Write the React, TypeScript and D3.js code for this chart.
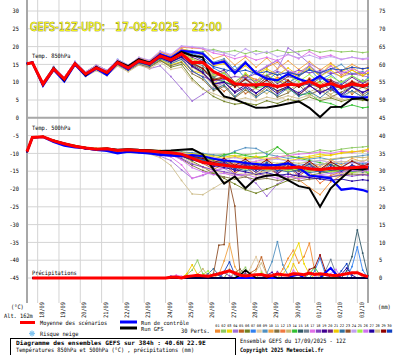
import React from 'react';
import * as d3 from 'd3';

// ---------- DATA ----------
const HOURS = [0, 6, 18, 30, 42, 54, 66, 78, 90, 102, 114, 126, 138, 150, 162, 174, 186, 198, 210, 222, 234, 246, 258, 270, 282, 294, 306, 318, 330, 342, 354, 366, 378, 384];

const DATE_LABELS = ['18/09', '19/09', '20/09', '21/09', '22/09', '23/09', '24/09', '25/09', '26/09', '27/09', '28/09', '29/09', '30/09', '01/10', '02/10', '03/10'];
const LEFT_TICKS = [30, 25, 20, 15, 10, 5, 0, -5, -10, -15, -20, -25, -30, -35, -40, -45];
const RIGHT_TICKS = [75, 70, 65, 60, 55, 50, 45, 40, 35, 30, 25, 20, 15, 10, 5, 0];
const TITLE_PARTS = ['GEFS-12Z-UPD:', '17-09-2025', '22:00'];

const MEMBER_COLORS = ['#f08a30', '#8cc860', '#f0d800', '#a070d8', '#c06020', '#708020', '#3080f0', '#e0c8a0', '#5090c0', '#f0a040',
  '#807040', '#f07840', '#c8b870', '#30c030', '#305868', '#708090', '#e070e8', '#8040c0', '#400090', '#702080',
  '#f0c800', '#3070a0', '#905028', '#c0a0f0', '#a0f040', '#d070f0', '#2000a0', '#d0c090', '#900000', '#1040c0'];

const T850_MEAN = [15.2, 15.5, 9.5, 13.7, 10.9, 15.2, 12.3, 14, 12.7, 15.5, 14, 16, 15.2, 17.4, 16.3, 18, 15.5, 15.6, 13, 11.5, 9.6, 9.2, 9.3, 9.4, 8.8, 9.4, 9.2, 10.2, 8.8, 9.6, 8.6, 9.5, 9, 9.3];
const T850_CTRL = [15.2, 15.6, 9.0, 13.5, 10.2, 15.0, 11.8, 13.8, 12.0, 15.4, 13.6, 16.2, 15.4, 17.8, 16.8, 18.8, 18.5, 18.0, 15.2, 15.8, 12.5, 15.5, 12.5, 11.0, 10.5, 12.3, 10.9, 10.0, 11.8, 9.5, 6.0, 5.8, 5.6, 5.8];
const T850_GFS = [15.2, 15.5, 9.3, 14.0, 10.5, 15.3, 12.0, 14.3, 12.5, 15.8, 14.5, 16.5, 15.5, 17.5, 16.5, 18.5, 17.5, 17.0, 9.5, 6.0, 5.2, 4.0, 2.8, 2.9, 3.4, 4.0, 4.6, 2.8, 0.2, 3.0, 3.1, 5.3, 5.5, 4.8];

const T850_MEMBERS = [
  [15.3, 15.6, 9.8, 14.1, 11.2, 15.6, 12.8, 14.5, 13.1, 16.0, 14.5, 16.7, 15.6, 18.0, 16.9, 19.3, 18.4, 17.6, 15.0, 16.4, 13.2, 15.8, 12.6, 14.2, 15.6, 12.8, 11.6, 13.8, 12.2, 14.6, 12.0, 13.4, 11.8, 12.6],
  [15.1, 15.4, 9.2, 13.5, 10.6, 15.0, 12.0, 13.8, 12.4, 15.2, 13.6, 15.8, 15.0, 17.2, 16.4, 18.6, 18.0, 18.6, 19.2, 18.4, 18.9, 18.0, 18.8, 18.2, 19.0, 18.3, 18.6, 19.1, 18.4, 18.9, 18.5, 18.7, 18.3, 18.5],
  [15.2, 15.5, 9.6, 13.9, 11.0, 15.4, 12.5, 14.2, 12.6, 15.4, 13.8, 15.6, 14.6, 16.3, 14.9, 15.8, 13.2, 12.4, 9.6, 11.8, 8.8, 12.6, 10.2, 13.4, 11.0, 9.4, 12.8, 14.6, 12.0, 15.2, 13.0, 14.2, 12.2, 13.6],
  [15.3, 15.6, 9.0, 13.6, 10.8, 15.2, 12.2, 14.0, 12.2, 15.0, 13.4, 15.2, 13.8, 14.6, 11.6, 8.2, 4.7, 6.6, 8.6, 9.8, 9.2, 11.0, 10.4, 12.0, 13.6, 19.6, 17.8, 15.2, 13.6, 12.8, 11.6, 12.4, 11.8, 11.5],
  [15.0, 15.3, 9.4, 13.4, 10.7, 14.9, 12.1, 13.7, 12.5, 15.1, 13.8, 15.7, 14.9, 17.0, 16.0, 17.6, 14.8, 12.6, 9.8, 7.4, 9.6, 6.8, 8.4, 10.6, 7.2, 9.0, 6.4, 8.8, 10.2, 7.6, 9.4, 6.6, 8.8, 8.0],
  [15.2, 15.4, 9.3, 13.6, 10.5, 15.0, 11.8, 13.6, 12.2, 15.0, 13.4, 15.4, 14.4, 16.2, 14.2, 15.0, 11.0, 8.2, 6.0, 4.6, 3.8, 4.2, 3.6, 4.8, 4.0, 5.2, 4.6, 5.8, 4.8, 5.6, 4.6, 5.4, 4.9, 5.0],
  [15.4, 15.7, 10.0, 14.4, 11.4, 15.8, 12.9, 14.8, 13.4, 16.4, 14.8, 16.8, 16.0, 18.4, 17.2, 19.0, 18.0, 17.2, 14.0, 12.4, 14.6, 11.0, 13.2, 10.4, 12.8, 9.8, 11.6, 13.8, 10.6, 12.2, 9.6, 11.8, 10.0, 11.2],
  [15.1, 15.3, 9.1, 13.2, 10.4, 14.8, 11.9, 13.6, 12.3, 14.9, 13.3, 15.3, 14.5, 16.8, 15.4, 16.6, 13.6, 10.6, 8.2, 9.4, 6.0, 7.8, 5.4, 8.6, 6.2, 4.8, 7.4, 5.8, 8.2, 6.4, 5.2, 7.6, 6.0, 6.6],
  [15.3, 15.6, 9.7, 14.0, 11.1, 15.5, 12.6, 14.4, 13.0, 15.8, 14.3, 16.4, 15.6, 18.2, 17.0, 19.2, 18.8, 18.4, 15.6, 16.6, 13.4, 15.8, 12.6, 14.4, 16.2, 13.0, 12.0, 14.6, 11.8, 13.6, 15.0, 12.4, 13.0, 12.2],
  [15.2, 15.6, 9.9, 14.3, 11.3, 15.7, 12.9, 14.8, 13.3, 16.2, 14.7, 16.9, 16.0, 18.5, 17.4, 19.8, 19.6, 19.4, 16.6, 17.6, 14.8, 17.0, 14.2, 16.8, 13.8, 16.0, 13.6, 15.8, 13.4, 15.4, 13.2, 15.0, 13.6, 14.2],
  [15.0, 15.3, 9.2, 13.3, 10.6, 14.8, 11.9, 13.5, 12.1, 14.8, 13.2, 15.0, 14.2, 16.0, 14.6, 15.6, 12.4, 10.8, 7.6, 8.8, 5.6, 7.8, 6.2, 8.6, 5.8, 7.0, 9.2, 6.6, 7.8, 5.8, 7.2, 8.8, 6.4, 7.4],
  [15.3, 15.5, 9.6, 13.8, 11.0, 15.3, 12.4, 14.1, 12.8, 15.6, 14.1, 16.1, 15.3, 17.6, 16.5, 18.2, 16.4, 15.2, 11.6, 12.8, 9.4, 11.8, 10.8, 9.0, 11.4, 10.6, 8.8, 11.2, 9.2, 10.8, 8.6, 10.4, 9.0, 9.8],
  [15.1, 15.4, 9.3, 13.5, 10.7, 15.0, 12.1, 13.8, 12.5, 15.3, 13.8, 15.8, 15.0, 17.1, 15.8, 17.2, 14.2, 12.4, 9.0, 10.2, 7.2, 9.4, 8.2, 6.8, 9.0, 7.4, 10.0, 7.2, 8.8, 6.6, 8.4, 7.0, 8.6, 7.6],
  [15.2, 15.5, 9.5, 13.7, 10.9, 15.2, 12.3, 14.0, 12.7, 15.5, 14.0, 16.0, 15.2, 17.4, 16.2, 17.8, 15.6, 13.6, 11.4, 10.2, 9.0, 9.6, 8.4, 9.0, 7.6, 8.2, 6.4, 6.8, 4.6, 4.0, 2.8, 3.6, 2.8, 3.0],
  [15.2, 15.5, 9.4, 13.6, 10.8, 15.1, 12.2, 13.9, 12.6, 15.4, 13.9, 15.9, 15.1, 17.3, 16.0, 17.6, 15.0, 13.2, 11.0, 10.0, 9.0, 9.6, 8.8, 9.4, 8.6, 9.4, 8.8, 9.6, 8.4, 9.2, 8.2, 9.0, 8.6, 8.8],
  [15.2, 15.5, 9.6, 13.8, 11.0, 15.3, 12.4, 14.1, 12.8, 15.6, 14.1, 16.1, 15.3, 17.5, 16.4, 18.0, 15.8, 14.6, 11.4, 12.6, 9.2, 11.2, 8.8, 11.6, 10.6, 8.6, 11.0, 9.4, 11.6, 9.0, 10.4, 8.8, 10.6, 9.4],
  [15.3, 15.6, 9.8, 14.2, 11.3, 15.7, 12.8, 14.6, 13.2, 16.2, 14.7, 16.8, 16.0, 18.6, 17.6, 20.0, 19.8, 19.4, 18.2, 17.6, 16.6, 17.4, 16.2, 17.0, 16.0, 17.8, 16.6, 18.6, 17.0, 17.6, 16.4, 17.0, 16.4, 16.6],
  [15.2, 15.5, 9.4, 13.6, 10.8, 15.1, 12.2, 13.9, 12.5, 15.3, 13.8, 15.7, 14.9, 17.0, 15.8, 17.0, 13.0, 11.6, 10.4, 10.8, 11.6, 11.2, 12.4, 11.8, 13.0, 12.2, 13.4, 12.6, 13.2, 12.4, 13.0, 12.2, 12.6, 12.4],
  [15.2, 15.4, 9.3, 13.5, 10.7, 15.0, 12.1, 13.8, 12.4, 15.2, 13.7, 15.6, 14.8, 16.8, 15.6, 17.0, 14.4, 12.6, 9.4, 10.0, 7.0, 8.6, 6.8, 9.2, 7.6, 8.8, 6.4, 9.0, 7.2, 8.2, 6.2, 8.6, 7.0, 7.8],
  [15.3, 15.6, 9.7, 14.0, 11.1, 15.5, 12.6, 14.4, 13.0, 15.8, 14.3, 16.4, 15.6, 17.9, 16.8, 18.6, 17.0, 15.8, 12.2, 13.4, 10.0, 12.2, 9.6, 12.0, 9.6, 11.6, 10.8, 9.0, 11.2, 10.6, 9.2, 11.4, 9.6, 10.6],
  [15.2, 15.6, 9.8, 14.1, 11.2, 15.6, 12.7, 14.5, 13.1, 16.0, 14.6, 16.7, 15.9, 18.4, 17.3, 19.4, 18.6, 17.8, 14.6, 15.2, 12.4, 14.6, 12.2, 13.8, 12.0, 14.0, 11.8, 14.2, 11.6, 13.4, 11.4, 13.4, 11.8, 12.6],
  [15.1, 15.3, 9.2, 13.4, 10.6, 14.9, 12.0, 13.7, 12.3, 15.1, 13.5, 15.4, 14.6, 16.6, 15.2, 16.4, 13.2, 11.4, 8.0, 9.2, 6.0, 8.4, 5.8, 7.8, 6.2, 8.4, 6.0, 7.4, 5.6, 8.0, 6.0, 7.6, 5.8, 6.8],
  [15.2, 15.5, 9.5, 13.7, 10.9, 15.2, 12.3, 14.0, 12.7, 15.5, 14.0, 16.0, 15.2, 17.4, 16.2, 17.8, 15.4, 14.0, 10.8, 11.6, 8.6, 10.8, 9.0, 11.2, 8.8, 10.6, 8.6, 10.8, 8.8, 10.2, 8.4, 10.0, 9.0, 9.6],
  [15.3, 15.6, 9.9, 14.3, 11.4, 15.8, 12.9, 14.8, 13.4, 16.3, 14.8, 17.0, 16.2, 18.8, 17.8, 20.2, 20.0, 19.6, 18.8, 18.2, 17.4, 19.4, 17.8, 18.6, 17.2, 17.8, 16.8, 17.6, 16.6, 17.2, 16.4, 17.0, 16.6, 16.8],
  [15.2, 15.5, 9.6, 13.9, 11.0, 15.4, 12.5, 14.2, 12.9, 15.7, 14.2, 16.2, 15.4, 17.7, 16.6, 18.4, 16.6, 15.4, 12.0, 12.6, 10.0, 12.4, 9.8, 12.2, 10.0, 12.0, 10.2, 12.2, 9.8, 11.6, 10.0, 11.8, 10.2, 10.8],
  [15.3, 15.6, 9.7, 14.1, 11.2, 15.6, 12.7, 14.5, 13.1, 16.0, 14.5, 16.6, 15.8, 18.2, 17.2, 19.2, 18.4, 18.0, 15.0, 16.0, 13.0, 15.4, 12.8, 14.6, 16.2, 13.2, 12.4, 14.8, 12.2, 14.6, 12.4, 13.8, 12.6, 13.2],
  [15.1, 15.4, 9.3, 13.5, 10.7, 15.0, 12.1, 13.8, 12.4, 15.2, 13.7, 15.6, 14.8, 16.9, 15.7, 17.2, 14.6, 12.8, 9.6, 10.0, 7.4, 9.2, 7.0, 9.0, 6.8, 8.6, 7.0, 9.2, 6.8, 8.6, 6.6, 8.8, 7.2, 7.8],
  [15.0, 15.2, 9.0, 13.1, 10.3, 14.6, 11.6, 13.2, 11.8, 14.5, 12.9, 14.8, 13.8, 15.6, 13.6, 14.2, 10.4, 8.0, 6.8, 5.6, 5.0, 5.6, 4.8, 5.8, 5.2, 6.2, 5.4, 6.4, 5.4, 6.0, 5.0, 5.8, 5.4, 5.6],
  [15.2, 15.5, 9.5, 13.7, 10.9, 15.2, 12.3, 14.0, 12.7, 15.5, 14.0, 16.0, 15.2, 17.3, 16.1, 17.6, 15.2, 13.8, 10.6, 11.2, 8.8, 10.8, 8.6, 10.6, 8.4, 10.4, 8.6, 10.8, 8.4, 10.4, 8.2, 10.2, 8.6, 9.4],
  [15.3, 15.6, 9.7, 14.0, 11.1, 15.5, 12.6, 14.4, 13.0, 15.8, 14.3, 16.4, 15.6, 18.0, 16.9, 18.8, 17.6, 16.2, 14.4, 13.6, 12.8, 13.4, 12.4, 13.0, 12.0, 12.8, 12.0, 13.4, 12.6, 13.8, 13.4, 14.2, 13.8, 14.0],
];

const T500_MEAN = [-9.5, -5.5, -5.3, -6.5, -7.3, -8.0, -8.5, -8.8, -8.7, -9.2, -9.0, -9.2, -9.3, -9.6, -9.8, -10.2, -11.3, -12.5, -13.0, -13.3, -13.7, -13.9, -14.1, -14.1, -14.1, -14.0, -13.8, -14.3, -14.6, -14.2, -14.2, -14.0, -13.8, -13.8];
const T500_CTRL = [-9.5, -5.6, -5.4, -6.8, -7.8, -8.3, -8.5, -9.0, -9.3, -10.0, -9.5, -9.8, -10.0, -10.4, -10.6, -10.8, -10.5, -10.8, -11.5, -12.0, -12.2, -12.7, -13.0, -13.3, -13.3, -12.8, -14.0, -16.2, -16.6, -17.0, -20.2, -19.8, -20.3, -20.8];
const T500_GFS = [-9.5, -5.5, -5.3, -6.4, -7.2, -7.9, -8.4, -8.8, -8.6, -9.0, -8.8, -9.0, -9.1, -9.3, -9.2, -9.0, -8.8, -10.3, -14.5, -18.5, -16.5, -19.8, -17.0, -16.3, -16.0, -17.5, -19.2, -19.8, -25.0, -19.8, -17.0, -14.3, -14.5, -14.2];

const T500_MEMBERS = [
  [-9.4, -5.6, -5.4, -6.6, -7.2, -7.9, -8.4, -8.6, -8.8, -9.0, -8.8, -9.0, -9.0, -9.2, -9.4, -9.8, -10.6, -11.4, -12.0, -12.6, -13.2, -12.8, -13.6, -14.2, -13.8, -15.2, -17.4, -19.6, -21.6, -18.0, -16.2, -15.4, -14.8, -14.6],
  [-9.6, -5.4, -5.2, -6.4, -7.4, -8.1, -8.6, -8.9, -8.6, -9.3, -9.1, -9.3, -9.4, -9.5, -9.6, -9.8, -10.2, -10.4, -10.6, -10.2, -10.8, -10.4, -10.0, -9.6, -8.2, -10.2, -9.4, -9.8, -9.0, -9.4, -8.8, -8.4, -8.2, -8.0],
  [-9.5, -5.5, -5.3, -6.4, -7.2, -7.8, -8.4, -8.6, -8.5, -9.0, -8.8, -9.0, -9.1, -9.2, -9.3, -9.6, -10.0, -10.2, -10.6, -11.0, -10.6, -11.2, -10.8, -11.4, -11.0, -10.6, -11.2, -10.8, -10.2, -10.6, -9.8, -9.4, -9.6, -9.2],
  [-9.6, -5.6, -5.4, -6.6, -7.4, -8.2, -8.7, -9.0, -9.0, -9.6, -9.4, -9.8, -10.0, -10.8, -12.0, -14.6, -17.0, -16.2, -15.0, -14.2, -15.8, -16.4, -18.4, -22.0, -18.6, -16.8, -15.6, -15.0, -14.4, -14.8, -14.2, -13.8, -13.4, -13.2],
  [-9.5, -5.6, -5.3, -6.5, -7.3, -8.1, -8.6, -8.9, -8.8, -9.3, -9.1, -9.4, -9.5, -9.9, -10.2, -10.8, -11.8, -12.8, -14.4, -13.2, -15.6, -13.8, -16.2, -14.0, -15.8, -13.6, -16.4, -14.2, -15.4, -13.8, -16.0, -14.6, -15.2, -15.0],
  [-9.4, -5.5, -5.2, -6.4, -7.2, -7.9, -8.4, -8.7, -8.6, -9.1, -8.9, -9.1, -9.2, -9.5, -9.8, -10.6, -12.2, -13.8, -15.6, -17.0, -18.6, -20.2, -21.2, -20.0, -18.8, -17.6, -16.8, -16.2, -15.6, -15.0, -14.6, -14.2, -14.0, -13.8],
  [-9.6, -5.4, -5.4, -6.6, -7.5, -8.2, -8.7, -9.1, -9.0, -9.5, -9.3, -9.5, -9.6, -9.9, -10.2, -10.6, -11.4, -12.0, -12.6, -13.0, -12.4, -13.2, -12.8, -13.6, -13.0, -12.6, -13.4, -12.8, -13.2, -12.6, -13.0, -12.4, -12.8, -12.6],
  [-9.5, -5.5, -5.3, -6.5, -7.3, -8.0, -8.5, -8.8, -8.7, -9.2, -9.0, -9.2, -9.3, -9.6, -10.0, -11.0, -12.6, -14.0, -14.8, -15.6, -16.0, -15.4, -16.2, -15.8, -16.4, -17.0, -16.6, -17.4, -16.8, -16.2, -15.8, -15.4, -15.6, -15.4],
  [-9.4, -5.4, -5.2, -6.3, -7.1, -7.8, -8.3, -8.6, -8.5, -9.0, -8.8, -9.0, -9.1, -9.3, -9.4, -9.6, -9.8, -10.0, -10.4, -10.8, -9.4, -8.4, -8.6, -10.2, -10.8, -11.4, -11.0, -11.6, -11.2, -11.8, -11.4, -11.0, -10.6, -10.4],
  [-9.5, -5.6, -5.4, -6.5, -7.3, -8.0, -8.5, -8.8, -8.8, -9.2, -9.0, -9.3, -9.4, -9.6, -9.9, -10.4, -11.2, -11.8, -12.8, -11.6, -14.2, -12.4, -14.8, -13.0, -15.0, -12.8, -14.6, -12.6, -13.8, -11.8, -13.2, -11.4, -12.4, -11.6],
  [-9.5, -5.5, -5.3, -6.6, -7.4, -8.1, -8.6, -8.9, -8.8, -9.3, -9.1, -9.3, -9.4, -9.8, -10.4, -11.6, -13.4, -14.8, -15.8, -16.6, -17.2, -16.6, -17.4, -17.0, -17.6, -17.2, -17.8, -17.2, -17.0, -16.6, -16.2, -15.8, -16.0, -15.8],
  [-9.5, -5.5, -5.3, -6.5, -7.3, -8.0, -8.5, -8.8, -8.7, -9.2, -9.0, -9.2, -9.3, -9.6, -9.8, -10.2, -11.0, -11.6, -12.2, -12.6, -13.0, -12.6, -13.4, -13.0, -13.8, -13.4, -14.0, -15.2, -18.4, -16.2, -15.2, -14.6, -14.2, -14.0],
  [-9.4, -5.5, -5.2, -6.4, -7.2, -7.9, -8.4, -8.7, -8.6, -9.1, -8.9, -9.1, -9.2, -9.4, -9.6, -10.0, -10.6, -11.2, -11.6, -12.0, -12.4, -12.0, -12.6, -12.2, -12.8, -12.4, -12.8, -12.4, -12.0, -11.6, -11.2, -11.0, -11.2, -11.0],
  [-9.6, -5.6, -5.4, -6.6, -7.4, -8.1, -8.6, -8.9, -8.8, -9.3, -9.1, -9.3, -9.4, -9.7, -9.9, -10.3, -10.8, -11.4, -11.8, -10.4, -9.8, -10.6, -11.2, -10.8, -8.2, -10.6, -11.4, -12.0, -12.6, -13.2, -13.8, -14.4, -15.0, -15.4],
  [-9.5, -5.5, -5.3, -6.5, -7.3, -8.0, -8.5, -8.8, -8.7, -9.2, -9.0, -9.2, -9.3, -9.6, -9.8, -10.2, -11.0, -11.8, -12.6, -13.2, -13.8, -14.2, -14.6, -14.2, -14.8, -14.4, -15.0, -14.6, -15.2, -14.8, -15.2, -14.8, -15.0, -14.8],
  [-9.5, -5.5, -5.3, -6.5, -7.3, -8.0, -8.5, -8.8, -8.7, -9.2, -9.0, -9.2, -9.3, -9.6, -9.8, -10.2, -10.8, -11.4, -12.6, -11.6, -13.8, -12.2, -14.0, -12.4, -14.2, -12.6, -14.4, -12.8, -14.6, -12.4, -13.8, -12.0, -13.2, -12.6],
  [-9.6, -5.6, -5.4, -6.6, -7.4, -8.2, -8.7, -9.0, -8.9, -9.4, -9.2, -9.5, -9.7, -10.2, -11.0, -13.2, -17.0, -16.0, -14.8, -14.0, -13.4, -12.8, -12.2, -11.6, -11.0, -10.6, -10.2, -10.0, -9.6, -10.0, -9.4, -9.8, -9.2, -9.4],
  [-9.5, -5.5, -5.3, -6.5, -7.3, -8.1, -8.6, -8.9, -8.8, -9.3, -9.1, -9.3, -9.5, -9.9, -10.4, -11.4, -13.0, -13.8, -14.6, -15.2, -15.8, -16.2, -15.6, -16.4, -15.8, -16.6, -16.0, -16.8, -16.2, -16.6, -16.0, -16.4, -16.0, -16.2],
  [-9.5, -5.5, -5.3, -6.5, -7.4, -8.1, -8.6, -8.9, -8.8, -9.3, -9.1, -9.4, -9.5, -9.8, -10.0, -10.6, -11.6, -12.4, -13.8, -12.6, -15.0, -13.2, -15.4, -13.4, -15.6, -13.6, -15.8, -13.4, -15.2, -13.8, -15.0, -13.2, -14.4, -13.8],
  [-9.5, -5.5, -5.3, -6.5, -7.3, -8.0, -8.5, -8.8, -8.7, -9.2, -9.0, -9.2, -9.3, -9.6, -9.8, -10.2, -11.2, -12.0, -12.6, -13.0, -13.6, -13.2, -14.0, -13.6, -14.2, -13.8, -14.4, -14.0, -14.6, -14.2, -14.8, -14.4, -14.6, -14.4],
  [-9.4, -5.4, -5.2, -6.3, -7.1, -7.8, -8.3, -8.6, -8.5, -9.0, -8.8, -9.0, -9.1, -9.3, -9.5, -9.8, -10.2, -10.6, -11.0, -11.4, -11.0, -11.6, -11.2, -11.8, -11.4, -12.0, -11.6, -11.2, -10.8, -10.4, -10.0, -9.6, -9.2, -8.8],
  [-9.5, -5.5, -5.3, -6.5, -7.3, -8.0, -8.5, -8.8, -8.7, -9.2, -9.0, -9.2, -9.3, -9.6, -9.9, -10.4, -11.4, -12.2, -13.0, -13.6, -14.2, -14.8, -14.4, -15.0, -14.6, -15.2, -14.8, -15.4, -15.0, -15.6, -15.2, -15.0, -15.2, -15.0],
  [-9.5, -5.5, -5.3, -6.5, -7.3, -8.0, -8.5, -8.8, -8.7, -9.2, -9.0, -9.2, -9.3, -9.6, -9.8, -10.2, -11.0, -11.6, -13.0, -12.0, -14.4, -12.6, -14.6, -12.8, -14.8, -12.6, -15.0, -13.0, -14.8, -12.8, -15.2, -13.4, -14.6, -13.8],
  [-9.4, -5.4, -5.2, -6.4, -7.2, -7.9, -8.4, -8.7, -8.6, -9.1, -8.9, -9.1, -9.2, -9.4, -9.6, -9.9, -10.4, -10.8, -11.2, -11.6, -11.2, -11.8, -11.4, -12.0, -11.6, -12.2, -11.8, -12.4, -12.0, -12.6, -12.2, -12.8, -12.4, -12.6],
  [-9.5, -5.5, -5.3, -6.5, -7.3, -8.0, -8.5, -8.8, -8.7, -9.2, -9.0, -9.2, -9.3, -9.6, -9.8, -10.3, -11.2, -12.0, -12.8, -13.4, -13.8, -14.4, -14.0, -14.6, -14.2, -14.8, -14.4, -15.0, -14.6, -15.2, -14.8, -15.4, -15.0, -15.2],
  [-9.6, -5.6, -5.4, -6.6, -7.4, -8.1, -8.6, -8.9, -8.8, -9.3, -9.1, -9.4, -9.5, -9.9, -10.4, -11.8, -14.0, -15.2, -16.0, -15.6, -16.4, -15.8, -16.8, -16.2, -17.0, -16.4, -17.2, -16.6, -16.0, -15.6, -15.2, -14.8, -15.0, -14.8],
  [-9.6, -5.6, -5.4, -6.7, -7.5, -8.2, -8.8, -9.1, -9.0, -9.6, -9.4, -9.6, -9.7, -10.0, -10.3, -10.8, -11.8, -12.6, -13.4, -14.0, -14.6, -15.2, -15.8, -15.4, -16.2, -15.8, -16.4, -16.8, -17.2, -17.6, -17.2, -17.8, -17.4, -17.6],
  [-9.4, -5.5, -5.3, -6.5, -7.3, -8.0, -8.5, -8.9, -8.9, -9.4, -9.4, -9.8, -10.2, -11.2, -13.4, -17.6, -21.4, -21.6, -19.8, -18.0, -17.0, -16.2, -15.6, -15.0, -14.6, -14.2, -13.8, -13.4, -13.0, -12.6, -12.4, -12.2, -12.0, -11.8],
  [-9.5, -5.5, -5.3, -6.5, -7.3, -8.0, -8.5, -8.8, -8.7, -9.2, -9.0, -9.2, -9.3, -9.6, -9.8, -10.2, -10.8, -11.4, -12.6, -11.4, -13.4, -11.6, -13.8, -11.8, -14.0, -12.0, -14.2, -12.2, -14.4, -12.4, -14.0, -12.2, -13.6, -13.0],
  [-9.5, -5.5, -5.3, -6.5, -7.3, -8.0, -8.5, -8.8, -8.7, -9.2, -9.0, -9.2, -9.3, -9.6, -9.8, -10.2, -11.0, -11.8, -13.2, -12.2, -14.4, -12.4, -14.8, -12.6, -15.0, -12.8, -14.6, -13.0, -15.2, -13.2, -15.0, -13.4, -14.6, -14.0],
];

// precipitation (mm / 6h), non-zero steps only: [hour, mm]
const PRECIP_MEMBERS: [number, number][][] = [
  [[288, 2.5], [294, 5.5], [300, 7.8], [306, 4.2], [312, 6.0], [318, 9.8], [324, 2.0]],
  [[180, 1.0], [186, 2.2], [192, 5.0], [198, 1.2], [240, 1.5], [246, 3.0]],
  [[288, 1.0], [294, 3.2], [300, 6.5], [306, 9.8], [312, 4.0], [318, 1.0]],
  [[162, 0.6], [168, 0.4], [210, 1.2], [216, 0.8]],
  [[252, 1.5], [258, 2.4], [264, 5.9], [270, 1.2]],
  [[228, 2.4], [234, 1.0], [348, 0.8]],
  [[324, 2.0], [330, 5.6], [336, 1.0], [366, 3.2], [372, 8.7], [378, 2.2]],
  [[252, 3.0], [258, 6.0], [264, 2.0], [372, 2.0]],
  [[270, 1.2], [276, 4.6], [282, 10.2], [288, 3.7], [294, 0.8]],
  [[216, 1.0], [222, 4.8], [228, 9.7], [234, 3.2], [240, 0.6]],
  [[234, 1.5], [240, 2.5], [246, 0.8]],
  [[300, 1.5], [306, 0.8]],
  [[192, 1.0], [198, 2.6], [204, 0.6]],
  [[318, 1.2], [324, 3.0], [330, 0.8]],
  [[360, 2.0], [366, 6.0], [372, 13.5], [378, 7.0], [384, 0.6]],
  [[336, 2.0], [342, 5.2], [348, 1.2]],
  [[168, 0.8], [174, 0.5], [300, 2.2], [306, 0.8]],
  [[222, 1.5], [228, 0.6], [282, 1.8]],
  [[270, 0.8], [276, 1.6]],
  [[186, 0.6], [246, 1.4]],
  [[180, 1.2], [186, 3.7], [192, 1.0], [300, 4.0], [306, 1.2]],
  [[204, 1.2], [210, 2.6], [216, 0.8]],
  [[210, 1.2], [216, 9.2], [222, 9.4], [228, 26.8], [234, 20.2], [240, 0.8]],
  [[318, 1.4], [324, 0.6]],
  [[198, 1.0], [204, 2.0], [264, 1.6]],
  [[342, 1.2], [348, 2.4]],
  [[354, 1.0], [360, 2.8], [366, 0.8]],
  [[258, 2.0], [264, 4.2], [270, 1.0]],
  [[318, 2.4], [324, 3.0], [330, 6.5], [336, 2.0]],
  [[222, 1.8], [228, 4.5], [234, 1.0], [354, 2.0], [360, 4.0]],
];
const PRECIP_MEAN: [number, number][] = [[162, 0.2], [168, 0.3], [180, 0.4], [186, 0.6], [192, 0.8], [198, 0.6], [204, 0.5], [210, 0.8], [216, 1.2], [222, 1.6], [228, 2.0], [234, 1.4], [240, 0.8], [246, 0.6], [252, 0.8], [258, 0.9], [264, 1.0], [270, 0.6], [276, 0.7], [282, 1.1], [288, 0.9], [294, 0.8], [300, 1.2], [306, 1.1], [312, 0.9], [318, 1.4], [324, 1.0], [330, 1.2], [336, 1.0], [342, 0.8], [348, 0.7], [354, 0.9], [360, 1.2], [366, 1.5], [372, 1.5], [378, 0.8], [384, 0.4]];
const PRECIP_CTRL: [number, number][] = [[300, 0.6], [306, 1.0], [336, 1.5], [342, 2.8], [348, 1.0]];
const PRECIP_GFS: [number, number][] = [[240, 0.8], [246, 2.2], [252, 1.0], [276, 0.6]];

// ---------- LAYOUT ----------
const W = 395, H = 355;
const X0 = 27, X1 = 368, YTOP = 0, YBOT = 303;
const x = d3.scaleLinear().domain([0, 384]).range([X0, X1]);
const yL = d3.scaleLinear().domain([30, -45]).range([11, 278]);
const yR = d3.scaleLinear().domain([75, 0]).range([11, 278]);
const PRECIP_HOURS = d3.range(6, 385, 6);
const GRID_HOURS = d3.range(12, 384, 24);
const MONO = "'DejaVu Sans Mono', monospace";
// title pieces: [left x, horizontal squeeze]
const TITLE_POS: [number, number][] = [[30, 0.78], [115, 0.89], [192, 0.83]];

function T({ x, y, s, size = 6, cw = 3.2, weight = 'normal', anchor = 'start', fill = '#000', transform }: any) {
  return (
    <text x={x} y={y} fontSize={size} fontFamily={MONO} fontWeight={weight} textAnchor={anchor}
      fill={fill} textLength={s.length * cw} lengthAdjust="spacingAndGlyphs" transform={transform}>{s}</text>
  );
}

const tempLine = d3.line<number>().x((_, i) => x(HOURS[i])).y((v) => yL(v));

const precipSeries = (sparse: [number, number][]) => {
  const m = new Map(sparse.map(([h, v]) => [h, v]));
  return PRECIP_HOURS.map((h) => [h, m.get(h) ?? 0] as [number, number]);
};
const precipLine = d3.line<[number, number]>().x((d) => x(d[0])).y((d) => yR(d[1]));

export default function App() {
  const memberPaths = (data: number[][]) =>
    data.map((vals, i) => (
      <g key={i}>
        <path d={tempLine(vals) || ''} fill="none" stroke={MEMBER_COLORS[i]} strokeWidth={0.9} />
        {vals.map((v, j) => (
          <rect key={j} x={x(HOURS[j]) - 0.8} y={yL(v) - 0.8} width={1.6} height={1.6} fill={MEMBER_COLORS[i]} />
        ))}
      </g>
    ));

  return (
    <svg width={W} height={H} style={{ position: 'fixed', left: 0, top: 0, background: '#fff' }}>
      <rect x={0} y={0} width={W} height={H} fill="#fff" />
      {/* grid */}
      {LEFT_TICKS.map((t) => (
        <line key={'h' + t} x1={X0} x2={X1} y1={yL(t)} y2={yL(t)} stroke="#d4d4d4" strokeWidth={1} />
      ))}
      {GRID_HOURS.map((h) => (
        <line key={'v' + h} x1={x(h)} x2={x(h)} y1={YTOP} y2={YBOT} stroke="#d4d4d4" strokeWidth={1} />
      ))}
      <line x1={X0} x2={X1} y1={yL(0)} y2={yL(0)} stroke="#a8a8a8" strokeWidth={2} />
      <line x1={X0} x2={X0} y1={YTOP} y2={YBOT} stroke="#a8a8a8" strokeWidth={2} />
      <line x1={X1} x2={X1} y1={YTOP} y2={YBOT} stroke="#a8a8a8" strokeWidth={2} />

      {/* tick labels */}
      {LEFT_TICKS.map((t) => (
        <T key={'lt' + t} x={19} y={yL(t) + 2.2} s={String(t)} anchor="end" />
      ))}
      {RIGHT_TICKS.map((t, i) => (
        <T key={'rt' + i} x={379} y={yR(t) + 2.2} s={String(t)} />
      ))}
      {DATE_LABELS.map((d, i) => (
        <T key={d} x={0} y={0} s={d} transform={`translate(${x(GRID_HOURS[i]) + 6.2},318) rotate(-90)`} />
      ))}
      <T x={11} y={309} s="(°C)" />
      <T x={378} y={309} s="(mm)" />
      <T x={4} y={318} s="Alt. 162m" />

      {/* panel labels */}
      <T x={32} y={57.5} s="Temp. 850hPa" />
      <T x={32} y={130} s="Temp. 500hPa" />
      <T x={32} y={274.5} s="Précipitations" />

      {/* 850 */}
      {memberPaths(T850_MEMBERS)}
      <path d={tempLine(T850_CTRL) || ''} fill="none" stroke="#0000ff" strokeWidth={2.2} />
      <path d={tempLine(T850_GFS) || ''} fill="none" stroke="#000" strokeWidth={2} />
      <path d={tempLine(T850_MEAN) || ''} fill="none" stroke="#ff0000" strokeWidth={3} />

      {/* 500 */}
      {memberPaths(T500_MEMBERS)}
      <path d={tempLine(T500_CTRL) || ''} fill="none" stroke="#0000ff" strokeWidth={2.2} />
      <path d={tempLine(T500_GFS) || ''} fill="none" stroke="#000" strokeWidth={2} />
      <path d={tempLine(T500_MEAN) || ''} fill="none" stroke="#ff0000" strokeWidth={3} />

      {/* precip */}
      {PRECIP_MEMBERS.map((sp, i) => {
        const s = precipSeries(sp);
        return (
          <g key={'p' + i}>
            <path d={precipLine(s) || ''} fill="none" stroke={MEMBER_COLORS[i]} strokeWidth={0.9} />
            {s.filter((d) => d[1] > 0).map((d, j) => (
              <rect key={j} x={x(d[0]) - 0.8} y={yR(d[1]) - 0.8} width={1.6} height={1.6} fill={MEMBER_COLORS[i]} />
            ))}
          </g>
        );
      })}
      <path d={precipLine(precipSeries(PRECIP_CTRL)) || ''} fill="none" stroke="#0000ff" strokeWidth={2} />
      <path d={precipLine(precipSeries(PRECIP_GFS)) || ''} fill="none" stroke="#000" strokeWidth={1.6} />
      <path d={precipLine(precipSeries(PRECIP_MEAN)) || ''} fill="none" stroke="#ff0000" strokeWidth={3} />

      {/* title */}
      {TITLE_PARTS.map((p, i) => (
        <text key={p} transform={`translate(${TITLE_POS[i][0]},31) scale(${TITLE_POS[i][1]},1)`} x={0} y={0}
          fontFamily="'DejaVu Sans', sans-serif" fontSize={12.5} fill="#f4f418" stroke="#6a6a00" strokeWidth={0.7}
          style={{ paintOrder: 'stroke' }}>{p}</text>
      ))}

      {/* legend */}
      <line x1={20} x2={35} y1={322.5} y2={322.5} stroke="#ff0000" strokeWidth={3} />
      <T x={40} y={324.8} s="Moyenne des scénarios" />
      <line x1={120} x2={137} y1={322} y2={322} stroke="#0000ff" strokeWidth={3} />
      <T x={141} y={324.5} s="Run de contrôle" size={5.6} />
      <line x1={120} x2={137} y1={328} y2={328} stroke="#000" strokeWidth={3} />
      <T x={141} y={330.8} s="Run GFS" size={5.6} />
      <g stroke="#80c4f0" strokeWidth={1.2}>
        <line x1={29} x2={35} y1={333.5} y2={333.5} />
        <line x1={32} x2={32} y1={330.5} y2={336.5} />
        <line x1={30} x2={34} y1={331.5} y2={335.5} />
        <line x1={34} x2={30} y1={331.5} y2={335.5} />
      </g>
      <T x={40} y={336} s="Risque neige" />
      <T x={181} y={333} s="30 Perts." />
      {MEMBER_COLORS.map((c, i) => (
        <g key={'sw' + i}>
          <text x={215 + i * 5.93 + 2.5} y={327} fontSize={3.6} fontFamily={MONO} textAnchor="middle" fill="#000">{String(i + 1).padStart(2, '0')}</text>
          <rect x={215 + i * 5.93} y={329.5} width={5.2} height={3.2} fill={c} />
        </g>
      ))}

      {/* footer */}
      <rect x={10.5} y={338.5} width={225} height={30} fill="#fff" stroke="#000" strokeWidth={1} />
      <T x={16} y={345} s="Diagramme des ensembles GEFS sur 384h : 40.6N 22.9E" weight="bold" cw={3.72} />
      <T x={16} y={352} s="Températures 850hPa et 500hPa (°C) , précipitations (mm)" cw={3.18} />
      <T x={240} y={342.5} s="Ensemble GEFS du 17/09/2025 - 12Z" cw={3.2} />
      <T x={240} y={352} s="Copyright 2025 Meteociel.fr" weight="bold" cw={3.1} />
    </svg>
  );
}
